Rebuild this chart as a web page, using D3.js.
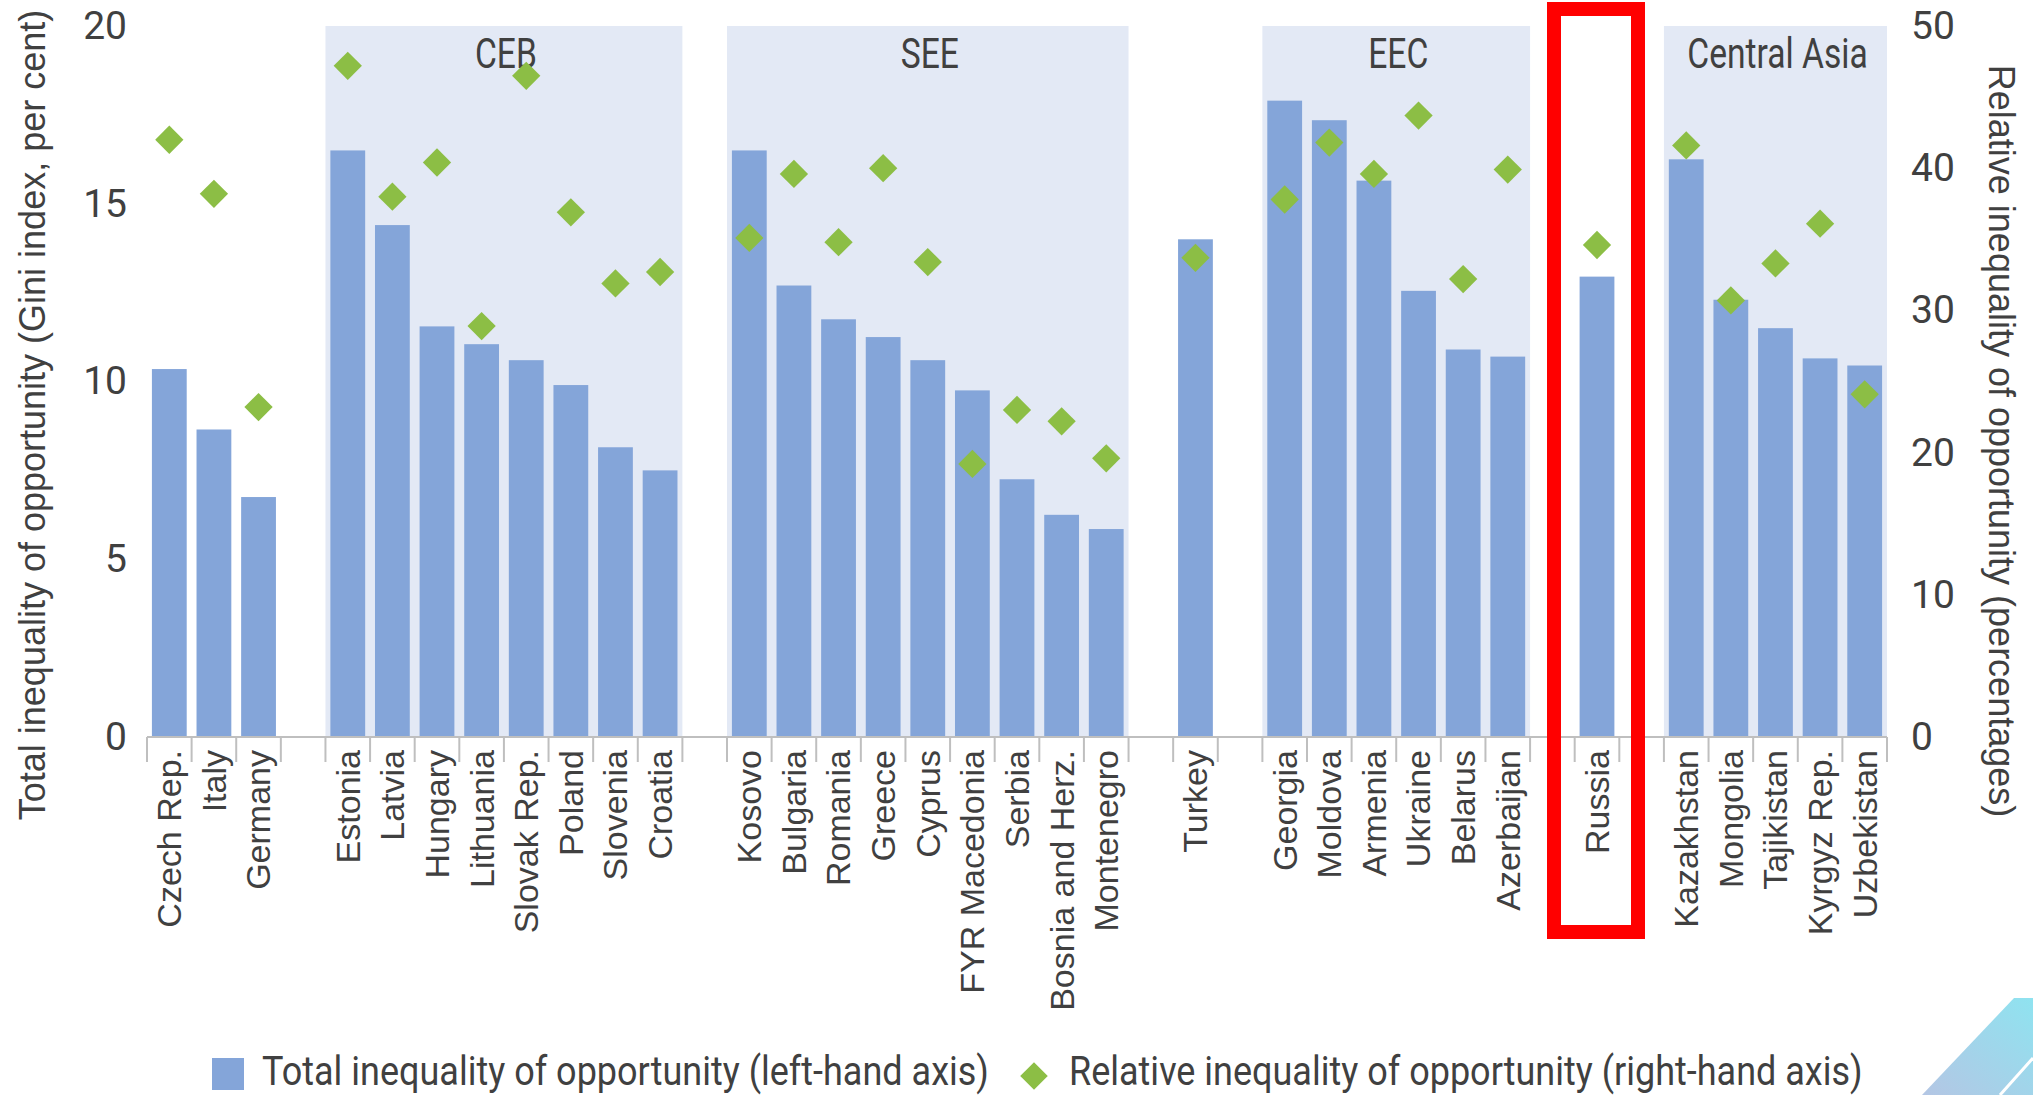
<!DOCTYPE html>
<html>
<head>
<meta charset="utf-8">
<script src="https://cdn.jsdelivr.net/npm/d3@7"></script>
<style>
  body { margin: 0; background: #fff; }
  svg { display: block; }
  .cat { font-family: "Liberation Sans", Arial, sans-serif; font-size: 34px; fill: #404040; }
  .title { font-family: "Liberation Sans", Arial, sans-serif; font-size: 36px; fill: #404040; }
  .num { font-family: Roboto, sans-serif; font-size: 39px; fill: #404040; }
  .cond { font-family: Roboto, sans-serif; font-size: 42px; fill: #404040; }
  .legend { font-family: Roboto, sans-serif; font-size: 40px; fill: #404040; }
</style>
</head>
<body>
<svg id="chart"></svg>
<script>
'use strict';

// "" = empty slot used as a separator on the category axis
var categories = ["Czech Rep.", "Italy", "Germany", "",
    "Estonia", "Latvia", "Hungary", "Lithuania", "Slovak Rep.", "Poland", "Slovenia", "Croatia", "",
    "Kosovo", "Bulgaria", "Romania", "Greece", "Cyprus", "FYR Macedonia", "Serbia", "Bosnia and Herz.", "Montenegro", "",
    "Turkey", "",
    "Georgia", "Moldova", "Armenia", "Ukraine", "Belarus", "Azerbaijan", "",
    "Russia", "",
    "Kazakhstan", "Mongolia", "Tajikistan", "Kyrgyz Rep.", "Uzbekistan"];

var totalIneq = [10.35, 8.65, 6.75, null,
    16.5, 14.4, 11.55, 11.05, 10.6, 9.9, 8.15, 7.5, null,
    16.5, 12.7, 11.75, 11.25, 10.6, 9.75, 7.25, 6.25, 5.85, null,
    14.0, null,
    17.9, 17.35, 15.65, 12.55, 10.9, 10.7, null,
    12.95, null,
    16.25, 12.3, 11.5, 10.65, 10.45];

var relIneq = [42.0, 38.2, 23.2, null,
    47.2, 38.0, 40.4, 28.9, 46.5, 36.9, 31.9, 32.7, null,
    35.1, 39.6, 34.8, 40.0, 33.4, 19.2, 23.0, 22.2, 19.6, null,
    33.7, null,
    37.8, 41.8, 39.6, 43.7, 32.2, 39.9, null,
    34.6, null,
    41.6, 30.7, 33.3, 36.1, 24.1];

var groupNames = ["CEB", "SEE", "EEC", "Central Asia"];
var groupFirst = ["Estonia", "Kosovo", "Georgia", "Kazakhstan"];
var groupLast = ["Croatia", "Montenegro", "Azerbaijan", "Uzbekistan"];

var highlight = "Russia";

var leftTicks = [0, 5, 10, 15, 20];
var rightTicks = [0, 10, 20, 30, 40, 50];

var legendLabels = ["Total inequality of opportunity (left-hand axis)",
    "Relative inequality of opportunity (right-hand axis)"];

var leftTitle = "Total inequality of opportunity (Gini index, per cent)";
var rightTitle = "Relative inequality of opportunity (percentages)";

var BAR_COLOR = "#84a5d9";
var DOT_COLOR = "#8cbe45";
var BAND_COLOR = "#e3e9f5";

var svgWidth = 2033,
    svgHeight = 1095;

var svg = d3.select("#chart")
    .attr("width", svgWidth)
    .attr("height", svgHeight);

var x = d3.scaleBand()
    .domain(d3.range(categories.length))
    .range([147, 1887])
    .paddingInner(0.22)
    .paddingOuter(0.11);

var yL = d3.scaleLinear().domain([0, 20]).range([737, 26]);
var yR = d3.scaleLinear().domain([0, 50]).range([737, 26]);

function slotLeft(i) {
    return x.range()[0] + i * x.step();
}
function center(i) {
    return x(i) + x.bandwidth() / 2;
}

// group bands
groupNames.forEach(function (name, k) {
    var a = categories.indexOf(groupFirst[k]);
    var b = categories.indexOf(groupLast[k]);
    var x0 = slotLeft(a), x1 = slotLeft(b + 1);
    svg.append("rect")
        .attr("x", x0)
        .attr("y", yL(20))
        .attr("width", x1 - x0)
        .attr("height", yL(0) - yL(20))
        .attr("fill", BAND_COLOR);
    svg.append("text")
        .attr("class", "cond")
        .attr("text-anchor", "middle")
        .attr("transform", "translate(" + ((x0 + x1) / 2 + 2) + ",68) scale(0.8,1)")
        .text(name);
});

var idx = d3.range(categories.length);

// bars
svg.append("g")
    .selectAll("rect")
    .data(idx.filter(function (i) { return totalIneq[i] != null }))
    .join("rect")
    .attr("x", function (i) { return x(i) })
    .attr("y", function (i) { return yL(totalIneq[i]) })
    .attr("width", x.bandwidth())
    .attr("height", function (i) { return yL(0) - yL(totalIneq[i]) })
    .attr("fill", BAR_COLOR);

// diamonds
var diamond = d3.symbol().type(d3.symbolSquare).size(400);
svg.append("g")
    .selectAll("path")
    .data(idx.filter(function (i) { return relIneq[i] != null }))
    .join("path")
    .attr("d", diamond)
    .attr("transform", function (i) {
        return "translate(" + center(i) + "," + yR(relIneq[i]) + ") rotate(45)";
    })
    .attr("fill", DOT_COLOR);

// category axis
var xAxis = svg.append("g").attr("class", "axis x");
xAxis.append("line")
    .attr("x1", x.range()[0])
    .attr("x2", x.range()[1])
    .attr("y1", yL(0))
    .attr("y2", yL(0))
    .attr("stroke", "#bfbfbf")
    .attr("stroke-width", 2);
xAxis.selectAll(".tick")
    .data(d3.range(categories.length + 1))
    .join("line")
    .attr("class", "tick")
    .attr("x1", slotLeft)
    .attr("x2", slotLeft)
    .attr("y1", yL(0))
    .attr("y2", yL(0) + 25)
    .attr("stroke", "#bfbfbf")
    .attr("stroke-width", 2);
xAxis.selectAll("text")
    .data(idx.filter(function (i) { return categories[i] !== "" }))
    .join("text")
    .attr("class", "cat")
    .attr("text-anchor", "end")
    .attr("dy", "0.35em")
    .attr("transform", function (i) {
        return "translate(" + center(i) + "," + (yL(0) + 13) + ") rotate(-90)";
    })
    .text(function (i) { return categories[i] });

// value axes
var gl = svg.append("g")
    .attr("class", "axis y")
    .attr("transform", "translate(" + x.range()[0] + ",0)")
    .call(d3.axisLeft(yL).tickValues(leftTicks).tickSize(0).tickPadding(20));
var gr = svg.append("g")
    .attr("class", "axis y2")
    .attr("transform", "translate(" + x.range()[1] + ",0)")
    .call(d3.axisRight(yR).tickValues(rightTicks).tickSize(0).tickPadding(24));
[gl, gr].forEach(function (g) {
    g.select(".domain").remove();
    g.selectAll("text")
        .attr("class", "num")
        .attr("fill", null);
    g.attr("font-family", null).attr("font-size", null);
});

svg.append("text")
    .attr("class", "title")
    .attr("text-anchor", "middle")
    .attr("dy", "0.35em")
    .attr("transform", "translate(32,415) rotate(-90)")
    .text(leftTitle);
svg.append("text")
    .attr("class", "title")
    .attr("text-anchor", "middle")
    .attr("dy", "0.35em")
    .attr("transform", "translate(2002,441) rotate(90)")
    .text(rightTitle);

// highlight box
var hi = categories.indexOf(highlight);
svg.append("rect")
    .attr("x", center(hi) - 43)
    .attr("y", 9)
    .attr("width", 84)
    .attr("height", 923)
    .attr("fill", "none")
    .attr("stroke", "#ff0000")
    .attr("stroke-width", 14);

// legend
svg.append("rect")
    .attr("x", 212)
    .attr("y", 1058)
    .attr("width", 32)
    .attr("height", 32)
    .attr("fill", BAR_COLOR);
svg.append("text")
    .attr("class", "legend")
    .attr("transform", "translate(262,1085) scale(0.9,1)")
    .text(legendLabels[0]);
svg.append("path")
    .attr("d", d3.symbol().type(d3.symbolSquare).size(380))
    .attr("transform", "translate(1034,1076) rotate(45)")
    .attr("fill", DOT_COLOR);
svg.append("text")
    .attr("class", "legend")
    .attr("transform", "translate(1069,1085) scale(0.9,1)")
    .text(legendLabels[1]);

// corner decoration
var grad = svg.append("defs").append("linearGradient")
    .attr("id", "corner")
    .attr("x1", "0").attr("y1", "1").attr("x2", "1").attr("y2", "0");
grad.append("stop").attr("offset", "0").attr("stop-color", "#b4c6e4");
grad.append("stop").attr("offset", "1").attr("stop-color", "#8fe3f0");
svg.append("polygon")
    .attr("points", "1922,1095 2014,998 2033,998 2033,1095")
    .attr("fill", "url(#corner)");
svg.append("line")
    .attr("x1", 2000).attr("y1", 1095)
    .attr("x2", 2033).attr("y2", 1058)
    .attr("stroke", "#fff")
    .attr("stroke-width", 3);
</script>
</body>
</html>
